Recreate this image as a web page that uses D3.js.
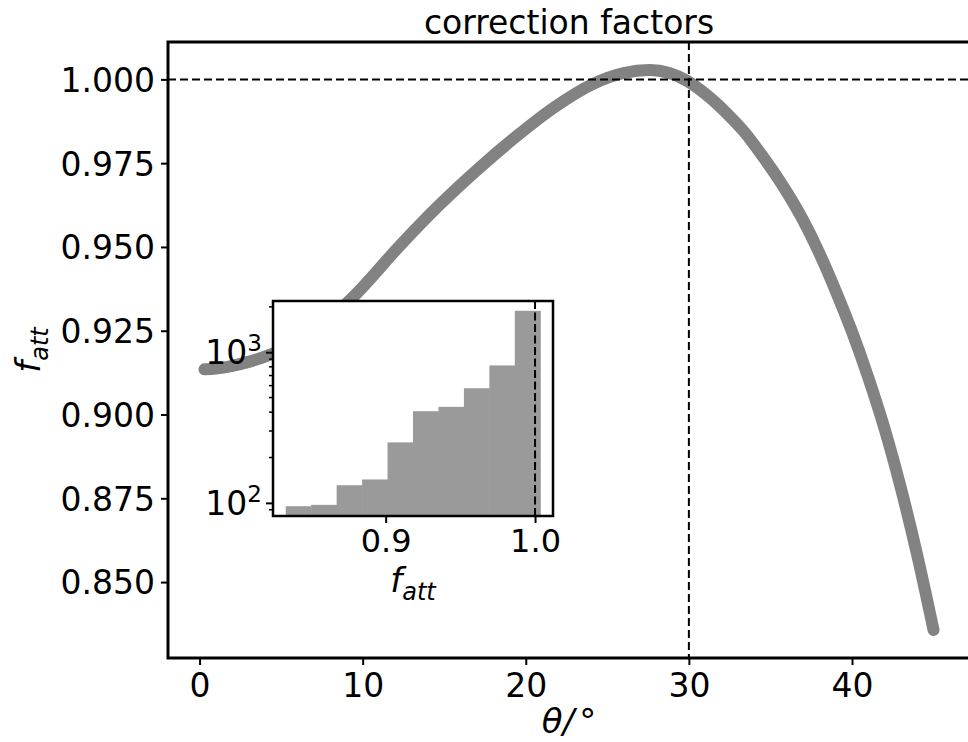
<!DOCTYPE html>
<html>
<head>
<meta charset="utf-8">
<script src="https://cdn.jsdelivr.net/npm/d3@7"></script>
<style>
  body { margin: 0; background: #fff; }
  svg text { font-family: "DejaVu Sans", sans-serif; fill: #000; }
</style>
</head>
<body>
<svg></svg>
<script>
/*
*  DATA
*/
let theta = [0.3, 1, 2, 3, 4.3, 6, 7.5, 9.4, 12.3, 14.7, 17.2, 19.4, 21.7, 24.1, 26, 27.6,
             28.8, 29.9, 31, 32.3, 33.4, 34.5, 35.5, 36, 37, 38, 39, 40, 41, 42, 43, 44, 45]
let fatt = [0.9135, 0.9137, 0.9145, 0.9157, 0.9178, 0.9215, 0.9268, 0.935, 0.9505, 0.9625,
            0.9738, 0.9829, 0.9915, 0.9986, 1.0019, 1.0028, 1.0019, 0.9995, 0.9957, 0.9900,
            0.9843, 0.9772, 0.9702, 0.9664, 0.958, 0.9481, 0.9369, 0.9247, 0.911, 0.8957,
            0.878, 0.858, 0.8357]
let histCounts = [95, 97, 131, 143, 252, 406, 434, 577, 817, 1884]
let histRange = [0.8331, 1.0035]
let xTicks = [0, 10, 20, 30, 40]
let yTicks = [0.850, 0.875, 0.900, 0.925, 0.950, 0.975, 1.000]
let insetXTicks = [0.9, 1.0]
let insetYTicks = [100, 1000]
let refTheta = 30, refF = 1.0

/*
*  RUN
*/
let width = 968,
    height = 742
let m = {left: 168, right: 970, top: 42, bottom: 658}
let ins = {left: 273, right: 553, top: 301, bottom: 516}

let svg = d3.select('svg').attr('width', width).attr('height', height)

// matplotlib style 5% margins
function pad(ext, p = 0.05){
  let d = ext[1] - ext[0]
  return [ext[0] - d * p, ext[1] + d * p]
}

let x = d3.scaleLinear().domain(pad(d3.extent(theta))).range([m.left, m.right])
let y = d3.scaleLinear().domain(pad(d3.extent(fatt))).range([m.bottom, m.top])

drawMain()
drawInset()

/*
*  HELPERS
*/
function drawMain(){
  let line = d3.line()
    .x((d, i) => x(theta[i]))
    .y(d => y(d))
    .curve(d3.curveMonotoneX)

  svg.append('path')
    .datum(fatt)
    .attr('d', line)
    .attr('fill', 'none')
    .attr('stroke', '#828282')
    .attr('stroke-width', 12)
    .attr('stroke-linecap', 'round')
    .attr('stroke-linejoin', 'round')

  // reference lines
  svg.append('line')
    .attr('x1', m.left).attr('x2', m.right)
    .attr('y1', y(refF)).attr('y2', y(refF))
    .attr('stroke', '#000').attr('stroke-width', 2).attr('stroke-dasharray', '8,4')
  svg.append('line')
    .attr('x1', x(refTheta)).attr('x2', x(refTheta))
    .attr('y1', m.top).attr('y2', m.bottom)
    .attr('stroke', '#000').attr('stroke-width', 2).attr('stroke-dasharray', '8,4')

  let xAxis = svg.append('g')
    .attr('transform', `translate(0,${m.bottom})`)
    .call(d3.axisBottom(x).tickValues(xTicks).tickSize(7).tickPadding(6))
  let yAxis = svg.append('g')
    .attr('transform', `translate(${m.left},0)`)
    .call(d3.axisLeft(y).tickValues(yTicks).tickFormat(d3.format('.3f')).tickSize(7).tickPadding(6))
  styleAxis(xAxis, 33)
  styleAxis(yAxis, 33)
  xAxis.selectAll('text').attr('dy', null).attr('y', 39)
  yAxis.selectAll('text').attr('dy', '0.36em')

  svg.append('rect')
    .attr('x', m.left).attr('y', m.top)
    .attr('width', m.right - m.left).attr('height', m.bottom - m.top)
    .attr('fill', 'none').attr('stroke', '#000').attr('stroke-width', 3)

  svg.append('text')
    .attr('x', (m.left + m.right) / 2).attr('y', 34)
    .attr('text-anchor', 'middle')
    .style('font-size', '33px')
    .text('correction factors')

  // x label  θ/°
  let xl = svg.append('text')
    .attr('x', (m.left + m.right) / 2).attr('y', 733)
    .attr('text-anchor', 'middle')
    .style('font-size', '34px')
    .style('font-style', 'italic')
  xl.append('tspan').text('θ/')
  xl.append('tspan').attr('dx', 5).style('font-style', 'normal').text('°')

  // y label  f_att
  let yl = svg.append('text')
    .attr('transform', 'translate(40,350) rotate(-90)')
    .attr('text-anchor', 'middle')
    .style('font-size', '34px')
    .style('font-style', 'italic')
  yl.append('tspan').text('f')
  yl.append('tspan').attr('dy', 8).style('font-size', '24px').text('att')
}

function drawInset(){
  let ix = d3.scaleLinear().domain(pad(histRange)).range([ins.left, ins.right])
  let logExt = d3.extent(histCounts).map(Math.log10)
  let iy = d3.scaleLog().domain(pad(logExt).map(v => Math.pow(10, v))).range([ins.bottom, ins.top])

  let g = svg.append('g').attr('class', 'inset')
  g.append('rect')
    .attr('x', ins.left).attr('y', ins.top)
    .attr('width', ins.right - ins.left).attr('height', ins.bottom - ins.top)
    .attr('fill', '#fff')

  let bw = (histRange[1] - histRange[0]) / histCounts.length
  g.selectAll('rect.bar')
    .data(histCounts)
    .enter()
    .append('rect')
    .attr('class', 'bar')
    .attr('x', (d, i) => ix(histRange[0] + i * bw))
    .attr('width', (d, i) => ix(histRange[0] + (i + 1) * bw) - ix(histRange[0] + i * bw) + 0.5)
    .attr('y', d => iy(d))
    .attr('height', d => ins.bottom - iy(d))
    .attr('fill', '#9a9a9a')

  g.append('line')
    .attr('x1', ix(refF)).attr('x2', ix(refF))
    .attr('y1', ins.top).attr('y2', ins.bottom)
    .attr('stroke', '#000').attr('stroke-width', 2).attr('stroke-dasharray', '8,3.5')

  let xa = g.append('g')
    .attr('transform', `translate(0,${ins.bottom})`)
    .call(d3.axisBottom(ix).tickValues(insetXTicks).tickFormat(d3.format('.1f')).tickSize(7).tickPadding(6))
  styleAxis(xa, 32)
  xa.selectAll('text').attr('dy', null).attr('y', 36)

  // log axis: minor ticks then major
  let minor = []
  let dom = iy.domain()
  for(let e = 1; e <= 3; e++){
    for(let k = 2; k <= 9; k++){
      let v = k * Math.pow(10, e)
      if(v >= dom[0] && v <= dom[1]) minor.push(v)
    }
  }
  g.selectAll('line.minor')
    .data(minor)
    .enter()
    .append('line')
    .attr('class', 'minor')
    .attr('x1', ins.left - 4).attr('x2', ins.left)
    .attr('y1', d => iy(d)).attr('y2', d => iy(d))
    .attr('stroke', '#000').attr('stroke-width', 1.5)

  let ya = g.append('g')
    .attr('transform', `translate(${ins.left},0)`)
    .call(d3.axisLeft(iy).tickValues(insetYTicks).tickFormat('').tickSize(7))
  styleAxis(ya, 32)
  insetYTicks.forEach(v => {
    let t = g.append('text')
      .attr('x', ins.left - 11).attr('y', iy(v) + 12)
      .attr('text-anchor', 'end')
      .style('font-size', '33px')
    t.append('tspan').text('10')
    t.append('tspan').attr('dy', -13).style('font-size', '23px').text(Math.round(Math.log10(v)))
  })

  g.append('rect')
    .attr('x', ins.left).attr('y', ins.top)
    .attr('width', ins.right - ins.left).attr('height', ins.bottom - ins.top)
    .attr('fill', 'none').attr('stroke', '#000').attr('stroke-width', 2.5)

  let lab = g.append('text')
    .attr('x', (ins.left + ins.right) / 2).attr('y', 592)
    .attr('text-anchor', 'middle')
    .style('font-size', '34px')
    .style('font-style', 'italic')
  lab.append('tspan').text('f')
  lab.append('tspan').attr('dy', 8).style('font-size', '24px').text('att')
}

function styleAxis(a, fs){
  a.select('.domain').remove()
  a.selectAll('.tick line').attr('stroke', '#000').attr('stroke-width', 2)
  a.selectAll('text').style('font-size', fs + 'px').attr('font-family', null)
  a.attr('font-family', null).attr('font-size', null)
}
</script>
</body>
</html>
